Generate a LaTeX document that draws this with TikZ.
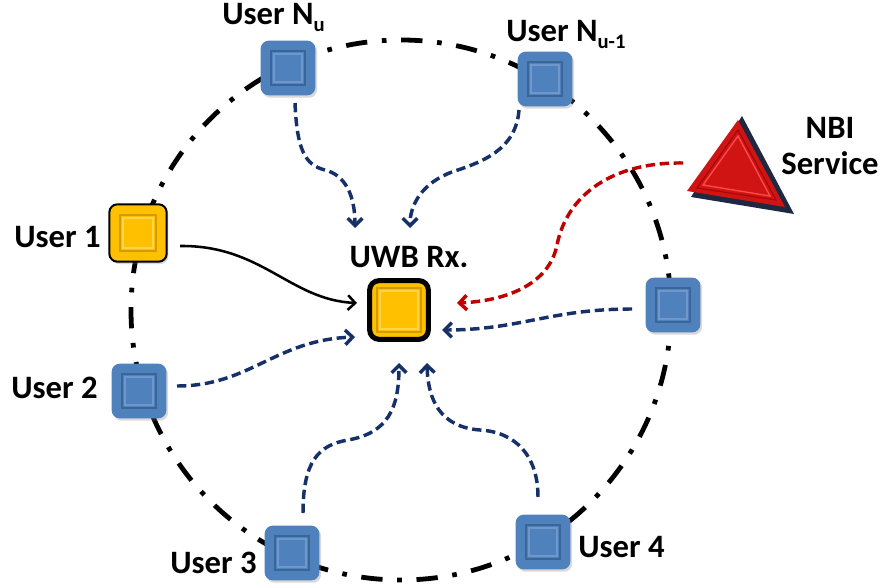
\documentclass[tikz,border=0pt]{standalone}
\usepackage{fontspec}
\setmainfont{Carlito}
\usetikzlibrary{arrows.meta,calc,shadows}
\definecolor{ublue}{HTML}{4F81BD}
\definecolor{ubluedark}{HTML}{3A6597}
\definecolor{ubluelight}{HTML}{6F97CC}
\definecolor{uyellow}{HTML}{FFC000}
\definecolor{uyellowdark}{HTML}{D49A00}
\definecolor{uyellowlight}{HTML}{FFD54F}
\definecolor{navyarr}{HTML}{16306A}
\definecolor{redarr}{HTML}{C00000}
\definecolor{trired}{HTML}{D01414}
\definecolor{tridark}{HTML}{1E2840}
\definecolor{trilight}{HTML}{FF4A4A}
\definecolor{triinner}{HTML}{A00808}
\newcommand\usub[1]{\raisebox{-5pt}{\fontsize{15.5}{16}\selectfont #1}}
\tikzset{
  x=0.75pt, y=-0.75pt,
  lbl/.style={font=\bfseries\fontsize{24.5}{28}\selectfont, inner sep=0pt, text=black},
  bevel/.style n args={3}{path picture={
    \draw[#1, sharp corners, line width=1.1pt] ([shift={(-#3,-#3)}]path picture bounding box.center) rectangle ([shift={(#3,#3)}]path picture bounding box.center);
    \draw[#2, sharp corners, line width=0.8pt] ([shift={(-#3+3,-#3+3)}]path picture bounding box.center) rectangle ([shift={(#3-3,#3-3)}]path picture bounding box.center);
  }},
  boxshadow/.style={drop shadow={shadow xshift=1.3pt, shadow yshift=-1.8pt, opacity=0.3}},
  bluebox/.style={rectangle, rounded corners=6pt, fill=ublue, minimum size=41pt, inner sep=0pt, boxshadow, bevel={ubluedark}{ubluelight}{17}},
  yelbox/.style={rectangle, rounded corners=6pt, fill=uyellow, draw=black, line width=1.5pt, minimum size=43pt, inner sep=0pt, boxshadow, bevel={uyellowdark}{uyellowlight}{18}},
  rxbox/.style={rectangle, rounded corners=7pt, fill=uyellow, draw=black, line width=3.8pt, minimum size=44pt, inner sep=0pt, boxshadow, bevel={uyellowdark}{uyellowlight}{22}},
  ring/.style={draw=black, line width=3.6pt, dash pattern=on 16pt off 11pt on 3.5pt off 11pt},
  navyflow/.style={draw=navyarr, line width=2.6pt, dash pattern=on 7pt off 3.5pt, -{Straight Barb[length=5.5pt,width=11pt]}},
  redflow/.style={draw=redarr, line width=2.6pt, dash pattern=on 7pt off 3.5pt, -{Straight Barb[length=5.5pt,width=11pt]}},
  blackflow/.style={draw=black, line width=1.9pt, -{Straight Barb[length=5.5pt,width=11pt]}}
}
\begin{document}
\begin{tikzpicture}
\useasboundingbox (0,0) rectangle (884,588);
% ring
\draw[ring] (401,310) circle[radius=270];
% NBI triangle
\fill[tridark] (742,116) -- (794,214) -- (691,197) -- cycle;
\fill[trired] (738,120) -- (785,207) -- (687,191) -- cycle;
\draw[triinner, line width=0.8pt] (738,130) -- (776,200) -- (697,188) -- cycle;
\draw[trilight, line width=1pt] (738,136) -- (770,196) -- (703,185) -- cycle;
\coordinate (nbis) at (683,163);
% nodes
\node[bluebox] (unu) at (288,68) {};
\node[bluebox] (unu1) at (545,79) {};
\node[yelbox] (u1) at (138,233) {};
\node[rxbox] (rx) at (399,310) {};
\node[bluebox] (ur) at (673,305) {};
\node[bluebox] (u2) at (139,391) {};
\node[bluebox] (u3) at (292,553) {};
\node[bluebox] (u4) at (543,542) {};
% labels
\node[lbl, anchor=base west] (lnu) at (222,25) {User N\usub{u}};
\node[lbl, anchor=base west] (lnu1) at (506,42) {User N\usub{u-1}};
\node[lbl, anchor=base east] (l1) at (101,247) {User 1};
\node[lbl, anchor=base east] (l2) at (98,398) {User 2};
\node[lbl, anchor=base east] (l3) at (257,573) {User 3};
\node[lbl, anchor=base west] (l4) at (578,557) {User 4};
\node[lbl, anchor=base] (lrx) at (409,267) {UWB Rx.};
\node[lbl, anchor=base] (lnbi) at (830,138) {NBI};
\node[lbl, anchor=base] (lserv) at (830,175) {Service};
% connectors
\draw[navyflow] ($(unu)+(7,35)$) .. controls (297,150) and (305,165) .. (325,170) .. controls (345,175) and (355,195) .. ($(rx)+(-44,-82)$);
\draw[navyflow] ($(unu1)+(-26,31)$) .. controls (516,150) and (482,162) .. (452,172) .. controls (422,183) and (410,205) .. ($(rx)+(11,-82)$);
\draw[blackflow] ($(u1)+(42,13)$) .. controls (262,245) and (290,300) .. ($(rx)+(-42,-7)$);
\draw[navyflow] ($(u2)+(38,-5)$) .. controls (250,386) and (275,340) .. ($(rx)+(-44,27)$);
\draw[navyflow] ($(ur)+(-41,4)$) .. controls (550,309) and (520,330) .. ($(rx)+(43,20)$);
\draw[redflow] (nbis) .. controls (612,162) and (567,195) .. (557,245) .. controls (549,285) and (505,301) .. ($(rx)+(58,-7)$);
\draw[navyflow] ($(u3)+(11,-40)$) .. controls (303,462) and (318,445) .. (348,440) .. controls (388,433) and (399,408) .. ($(rx)+(0,53)$);
\draw[navyflow] ($(u4)+(-5,-45)$) .. controls (538,455) and (515,432) .. (480,430) .. controls (440,427) and (428,400) .. ($(rx)+(28,53)$);
\end{tikzpicture}
\end{document}
